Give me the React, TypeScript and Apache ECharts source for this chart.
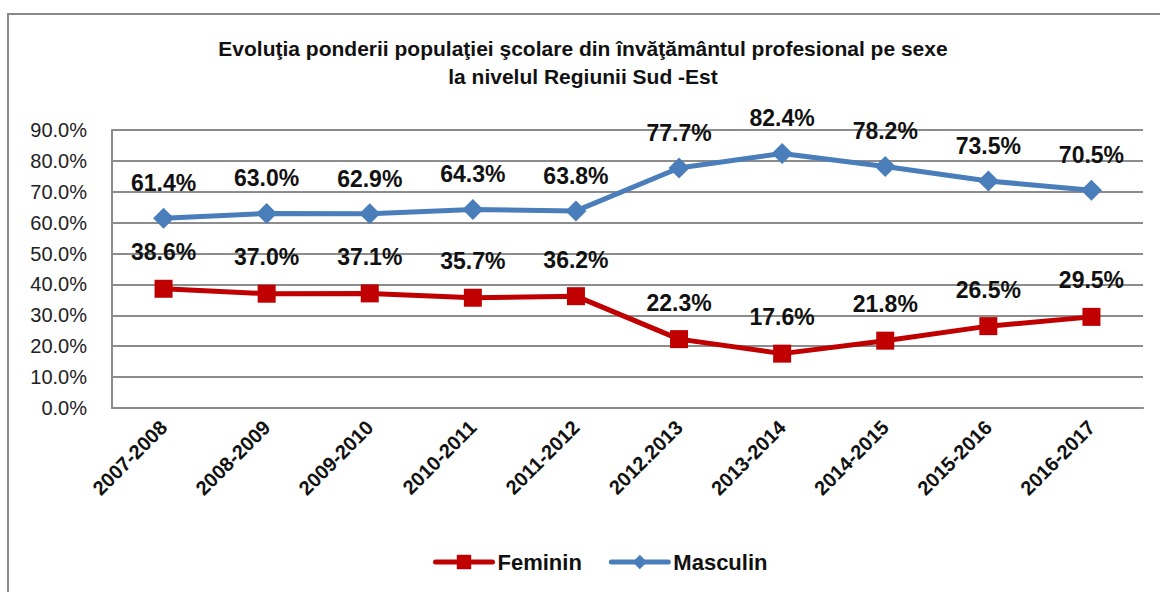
import React, { useEffect, useRef } from "react";
import * as echarts from "echarts";

const categories = [
  "2007-2008",
  "2008-2009",
  "2009-2010",
  "2010-2011",
  "2011-2012",
  "2012.2013",
  "2013-2014",
  "2014-2015",
  "2015-2016",
  "2016-2017",
];
const feminin = [38.6, 37.0, 37.1, 35.7, 36.2, 22.3, 17.6, 21.8, 26.5, 29.5];
const masculin = [61.4, 63.0, 62.9, 64.3, 63.8, 77.7, 82.4, 78.2, 73.5, 70.5];
const titleLines = [
  "Evoluţia ponderii populaţiei şcolare din învăţământul profesional pe sexe",
  "la nivelul Regiunii Sud -Est",
];

const NARROW = "'Liberation Sans Narrow', 'Arial Narrow', 'Liberation Sans', Arial, sans-serif";
const REG = "'Liberation Sans', Arial, sans-serif";

export default function App() {
  const ref = useRef<HTMLDivElement>(null);
  useEffect(() => {
    if (!ref.current) return;
    const chart = echarts.init(ref.current, undefined, { renderer: "svg" });
    const labelStyle = (distance: number) => ({
      show: true,
      position: "top" as const,
      distance,
      fontFamily: NARROW,
      fontWeight: "bold" as const,
      fontSize: 23,
      color: "#111",
      formatter: (p: any) => `${Number(p.value).toFixed(1)}%`,
    });
    chart.setOption({
      animation: false,
      backgroundColor: "#fff",
      title: {
        text: titleLines.join("\n"),
        left: 578,
        textAlign: "center",
        top: 29,
        textStyle: {
          fontFamily: NARROW,
          fontWeight: "bold",
          fontSize: 21,
          lineHeight: 28,
          color: "#111",
        },
      },
      graphic: [
        {
          type: "rect",
          shape: { x: 8, y: 14, width: 1170, height: 600 },
          style: { fill: "none", stroke: "#8a8a8a", lineWidth: 2 },
          silent: true,
          z: -10,
        },
      ],
      legend: {
        bottom: 14,
        left: 428,
        itemWidth: 57,
        itemHeight: 18,
        itemGap: 27,
        lineStyle: { width: 5, cap: "round" },
        textStyle: {
          fontFamily: NARROW,
          fontWeight: "bold",
          fontSize: 22,
          color: "#111",
        },
        data: ["Feminin", "Masculin"],
      },
      grid: { left: 112, right: 17, top: 130, bottom: 184, containLabel: false },
      xAxis: {
        type: "category",
        data: categories,
        boundaryGap: true,
        axisLine: { show: true, lineStyle: { color: "#8a8a8a", width: 2 } },
        axisTick: { show: false },
        axisLabel: {
          rotate: 45,
          margin: 16,
          fontFamily: NARROW,
          fontWeight: "bold",
          fontSize: 20,
          color: "#111",
        },
      },
      yAxis: {
        type: "value",
        min: 0,
        max: 90,
        interval: 10,
        axisLine: { show: true, lineStyle: { color: "#8a8a8a", width: 2 } },
        axisTick: { show: false },
        splitLine: { lineStyle: { color: "#8c8c8c", width: 2 } },
        axisLabel: {
          margin: 25,
          fontFamily: REG,
          fontSize: 20,
          color: "#222",
          formatter: (v: number) => `${v.toFixed(1)}%`,
        },
      },
      series: [
        {
          name: "Feminin",
          type: "line",
          data: feminin,
          symbol: "rect",
          symbolSize: 18,
          itemStyle: { color: "#C00000" },
          lineStyle: { color: "#C00000", width: 5 },
          label: labelStyle(16),
          z: 3,
        },
        {
          name: "Masculin",
          type: "line",
          data: masculin,
          symbol: "diamond",
          symbolSize: [21, 21],
          itemStyle: { color: "#4A7EBB" },
          lineStyle: { color: "#4A7EBB", width: 5 },
          label: labelStyle(13),
          z: 3,
        },
      ],
    });
    return () => chart.dispose();
  }, []);
  return (
    <div
      ref={ref}
      style={{ position: "fixed", left: 0, top: 0, width: 1160, height: 592 }}
    />
  );
}
